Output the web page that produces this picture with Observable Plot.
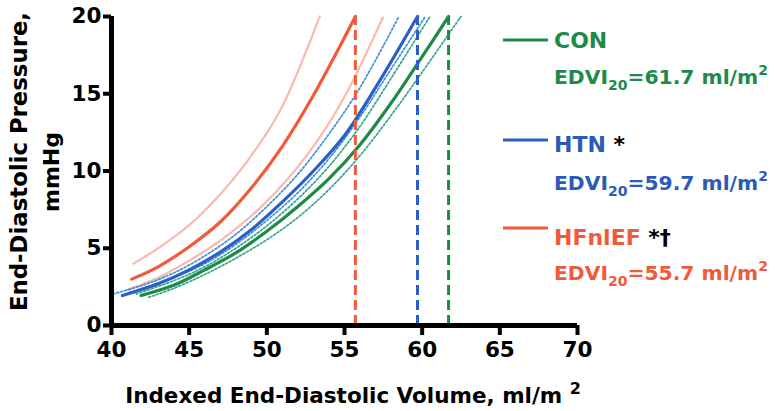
<!DOCTYPE html>
<html>
<head>
<meta charset="utf-8">
<script src="https://cdn.jsdelivr.net/npm/d3@7"></script>
<script src="https://cdn.jsdelivr.net/npm/@observablehq/plot@0.6"></script>
<style>
  html, body { margin: 0; padding: 0; background: #fff; }
  #chart svg { display: block; }
</style>
</head>
<body>
<div id="chart"></div>
<script>
// ---- data ----
const xTicks = [40, 45, 50, 55, 60, 65, 70];
const yTicks = [0, 5, 10, 15, 20];
const groups = ["CON", "HTN", "HFnlEF"];
const groupMarks = ["", " *", " *\u2020"];
const edvi20 = [61.7, 59.7, 55.7];

// [EDVI ml/m2, EDP mmHg]
const conMain  = [[41.9,1.94],[44,2.6],[46,3.6],[48,4.7],[50,6.1],[52,7.7],[54,9.5],[56,11.7],[58,14.4],[60,17.4],[61.7,20]];
const conUpper = [[41.6,2.05],[44,2.9],[46,3.8],[48,5.0],[50,6.45],[52,8.2],[54,10.3],[56,12.9],[58,16.0],[60.5,20]];
const conLower = [[42.4,1.83],[44,2.4],[46,3.3],[48,4.35],[50,5.55],[52,7.0],[54,8.8],[56,11.0],[58,13.6],[60,16.4],[62.5,20]];
const htnMain  = [[40.7,1.94],[43,2.7],[45,3.6],[47,4.75],[49,6.2],[51,8.0],[53,10.0],[55,12.3],[57,15.4],[59.7,20]];
const htnUpper = [[40.1,2.05],[42,2.6],[44,3.4],[46,4.5],[48,5.9],[50,7.7],[52,9.8],[54,12.4],[56,15.4],[58.5,20]];
const htnLower = [[41.2,2.15],[44,3.1],[46,4.0],[48,5.25],[50,6.8],[52,8.6],[54,10.8],[56,13.5],[58,16.6],[60.2,20]];
const hfMain   = [[41.3,3.0],[43,3.8],[45,5.1],[47,6.7],[49,8.9],[51,11.6],[53,14.9],[55.7,20]];
const hfUpper  = [[41.4,4.0],[43,5.0],[45,6.5],[47,8.5],[49,11.0],[51,14.2],[53.4,20]];
const hfLower  = [[41.0,2.3],[43,3.1],[45,4.2],[47,5.5],[49,7.1],[51,9.1],[53,11.6],[55,14.8],[57.5,20]];

// ---- styles ----
const colors = { CON: "#1f8a48", HTN: "#2c5fc4", HFnlEF: "#f25a3a" };
const textColors = { CON: "#1d8a4c", HTN: "#2b5bb8", HFnlEF: "#f05a3c" };
const FONT = "DejaVu Sans";

const ci = (arr) => arr.map(([x, y]) => ({x, y}));
const CURVE = "catmull-rom";

const plot = Plot.plot({
  width: 778,
  height: 411,
  marginLeft: 111,
  marginRight: 201,
  marginTop: 16,
  marginBottom: 86,
  x: { domain: [40, 70] },
  y: { domain: [0, 20] },
  style: { fontFamily: FONT, color: "#000", background: "#fff", overflow: "visible" },
  marks: [
    // confidence bands (thin)
    Plot.line(ci(hfUpper), {x: "x", y: "y", curve: CURVE, stroke: "#f8ac9b", strokeWidth: 2.2, strokeDasharray: "3,1.5", strokeOpacity: 0.85}),
    Plot.line(ci(hfLower), {x: "x", y: "y", curve: CURVE, stroke: "#f8ac9b", strokeWidth: 2.2, strokeDasharray: "3,1.5", strokeOpacity: 0.85}),
    Plot.line(ci(htnUpper), {x: "x", y: "y", curve: CURVE, stroke: "#3f8fdc", strokeWidth: 1.7, strokeDasharray: "2,2"}),
    Plot.line(ci(htnLower), {x: "x", y: "y", curve: CURVE, stroke: "#3f8fdc", strokeWidth: 1.7, strokeDasharray: "2,2"}),
    Plot.line(ci(conUpper), {x: "x", y: "y", curve: CURVE, stroke: "#35a48c", strokeWidth: 1.7, strokeDasharray: "2,2"}),
    Plot.line(ci(conLower), {x: "x", y: "y", curve: CURVE, stroke: "#35a48c", strokeWidth: 1.7, strokeDasharray: "2,2"}),
    // mean curves
    Plot.line(ci(conMain), {x: "x", y: "y", curve: CURVE, stroke: colors.CON, strokeWidth: 3.2}),
    Plot.line(ci(htnMain), {x: "x", y: "y", curve: CURVE, stroke: colors.HTN, strokeWidth: 3.2}),
    Plot.line(ci(hfMain), {x: "x", y: "y", curve: CURVE, stroke: colors.HFnlEF, strokeWidth: 3.2}),
    // EDVI20 verticals
    Plot.ruleX(groups.map((g, i) => ({g, v: edvi20[i]})), {x: "v", y1: 0, y2: 20, stroke: d => colors[d.g], strokeWidth: 3, strokeDasharray: "10,5"}),
    // axes
    Plot.axisX({ticks: xTicks, tickSize: 10, tickPadding: 6, fontSize: 21.5, fontWeight: "bold", strokeWidth: 4, label: null, fill: "#000", stroke: "#000"}),
    Plot.axisY({ticks: yTicks, tickSize: 8, tickPadding: 2, fontSize: 21.5, fontWeight: "bold", strokeWidth: 4, label: null, fill: "#000", stroke: "#000"}),
    Plot.ruleX([40], {y1: 0, y2: 20, strokeWidth: 5, stroke: "#000"}),
    Plot.ruleY([0], {x1: 40, x2: 70, strokeWidth: 5, stroke: "#000"})
  ]
});

document.getElementById("chart").appendChild(plot);

// ---- titles & legend (text) ----
const svg = d3.select(plot);
const fs = 21.5;

svg.append("text")
  .attr("transform", "translate(27,161.5) rotate(-90)")
  .attr("text-anchor", "middle")
  .attr("font-family", FONT).attr("font-weight", "bold").attr("font-size", 22.8)
  .attr("fill", "#000")
  .text("End-Diastolic Pressure,");
svg.append("text")
  .attr("transform", "translate(59,172) rotate(-90)")
  .attr("text-anchor", "middle")
  .attr("font-family", FONT).attr("font-weight", "bold").attr("font-size", 22)
  .attr("fill", "#000")
  .text("mmHg");

const xt = svg.append("text")
  .attr("x", 353).attr("y", 403)
  .attr("text-anchor", "middle")
  .attr("font-family", FONT).attr("font-weight", "bold").attr("font-size", fs)
  .attr("fill", "#000");
xt.append("tspan").text("Indexed End-Diastolic Volume, ml/m ");
xt.append("tspan").attr("dy", -9).attr("font-size", 16).text("2");

const legendY = [40, 140, 228];
const nameBase = [48, 152, 245];
const edviBase = [84, 190, 280];
groups.forEach((g, i) => {
  svg.append("line")
    .attr("x1", 503).attr("x2", 548)
    .attr("y1", legendY[i]).attr("y2", legendY[i])
    .attr("stroke", colors[g]).attr("stroke-width", 3);
  const t = svg.append("text")
    .attr("x", 554).attr("y", nameBase[i])
    .attr("text-anchor", "start")
    .attr("font-family", FONT).attr("font-weight", "bold").attr("font-size", 22);
  t.append("tspan").attr("fill", textColors[g]).text(g);
  if (groupMarks[i]) t.append("tspan").attr("fill", "#000").text(groupMarks[i]);
  const e = svg.append("text")
    .attr("x", 554).attr("y", edviBase[i])
    .attr("text-anchor", "start")
    .attr("font-family", FONT).attr("font-weight", "bold").attr("font-size", 20.3)
    .attr("fill", textColors[g]);
  e.append("tspan").text("EDVI");
  e.append("tspan").attr("dy", 6).attr("font-size", 14).text("20");
  e.append("tspan").attr("dy", -6).text("=" + edvi20[i].toFixed(1) + " ml/m");
  e.append("tspan").attr("dy", -9).attr("font-size", 14).text("2");
});
</script>
</body>
</html>
